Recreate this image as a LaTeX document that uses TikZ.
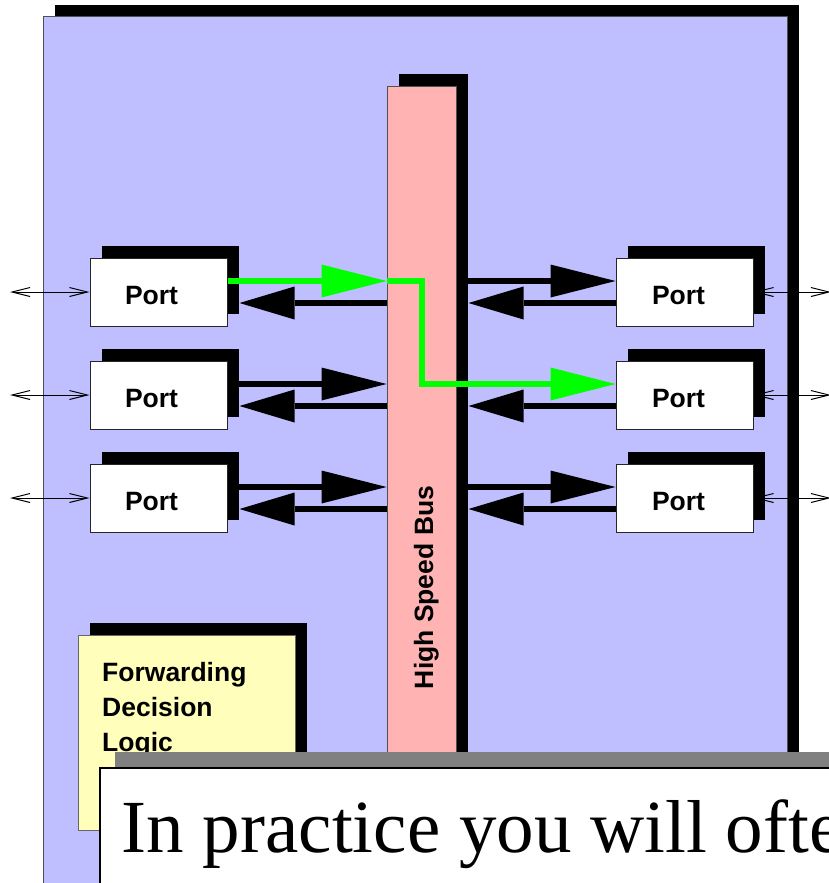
\documentclass[tikz,border=0pt]{standalone}
\usepackage{fontspec}
\setmainfont{Liberation Serif}
\setsansfont{Liberation Sans}
\usetikzlibrary{arrows.meta,shadows,calc}
\definecolor{panelblue}{RGB}{191,191,255}
\definecolor{buspink}{RGB}{255,179,179}
\definecolor{logicyellow}{RGB}{255,255,187}
\definecolor{pathgreen}{RGB}{0,255,0}
\definecolor{edgegray}{RGB}{80,80,80}
\begin{document}
\begin{tikzpicture}[x=1pt,y=-1pt,
  hardshadow/.style={drop shadow={shadow xshift=12pt,shadow yshift=12pt,fill=black,opacity=1}},
  boxbase/.style={rectangle,inner sep=0pt,line width=1pt,draw=edgegray},
  panel/.style={boxbase,fill=panelblue,minimum width=744pt,minimum height=903pt,hardshadow},
  busbox/.style={boxbase,fill=buspink,minimum width=69pt,minimum height=714pt,hardshadow},
  port/.style={boxbase,draw=black!85,fill=white,minimum width=137pt,minimum height=68pt,hardshadow},
  logicbox/.style={boxbase,draw=black!60,fill=logicyellow,minimum width=217pt,minimum height=195pt,hardshadow},
  notebox/.style={rectangle,inner sep=0pt,line width=1.6pt,draw=black,fill=white,
    minimum width=800pt,minimum height=182pt,
    drop shadow={shadow xshift=15pt,shadow yshift=16pt,fill=black!50,opacity=1}},
  labelfont/.style={font=\sffamily\bfseries\fontsize{26.5}{35}\selectfont,inner sep=0pt},
  portlabel/.style={labelfont,anchor=base},
  fwd/.style={line width=6pt,-{Triangle[length=65pt,width=33pt,line width=0pt]}},
  back/.style={line width=6pt,-{Triangle[length=55pt,width=33pt,line width=0pt]}},
  ext/.style={line width=1pt,
    {Straight Barb[length=18pt,width=9pt,line width=1pt]}-{Straight Barb[length=18pt,width=9pt,line width=1pt]}},
]
\useasboundingbox (0,0) rectangle (829,883);
\clip (0,0) rectangle (829,883);

% switch chassis
\node[panel] (chassis) at (415,468.5) {};

% backplane bus
\node[busbox] (bus) at (421.5,443) {};
\node[labelfont,rotate=90,anchor=base] (buslabel) at (433,587.5) {High Speed Bus};

% line cards
\foreach \i/\yy in {1/292,2/395,3/498}{
  \node[port] (pL\i) at (158.5,\yy) {};
  \node[port] (pR\i) at (684.5,\yy) {};
  \node[portlabel] (tL\i) at (151.5,\yy+12) {Port};
  \node[portlabel] (tR\i) at (678.5,\yy+12) {Port};
  \coordinate (xL\i) at (10,\yy);
  \coordinate (xR\i) at (831,\yy);
}

% external links and bus-to-port traffic
\foreach \i in {1,2,3}{
  \draw[ext] (xL\i) -- (pL\i.west);
  \draw[ext] (pR\i.east) -- (xR\i);
  \draw[back] ($(bus.west |- pL\i.east)+(0pt,-11pt)$) -- ($(pL\i.east)+(12pt,-11pt)$);
  \draw[back] ($(pR\i.west)+(0pt,-11pt)$) -- ($(bus.east |- pR\i.west)+(12pt,-11pt)$);
}
% port-to-bus traffic
\draw[fwd] ($(pL2.east)+(0pt,11pt)$) -- ($(bus.west |- pL2.east)+(0pt,11pt)$);
\draw[fwd] ($(pL3.east)+(0pt,11pt)$) -- ($(bus.west |- pL3.east)+(0pt,11pt)$);
\draw[fwd] ($(bus.east |- pR1.west)+(0pt,11pt)$) -- ($(pR1.west)+(0pt,11pt)$);
\draw[fwd] ($(bus.east |- pR3.west)+(0pt,11pt)$) -- ($(pR3.west)+(0pt,11pt)$);

% highlighted frame path across the bus
\draw[fwd,color=pathgreen] ($(pL1.east)+(0pt,11pt)$) -- ($(bus.west |- pL1.east)+(0pt,11pt)$);
\draw[fwd,color=pathgreen] ($(bus.west |- pL1.east)+(0pt,11pt)$)
  -| ($(bus.north |- pR2.west)+(0pt,11pt)$) -- ($(pR2.west)+(0pt,11pt)$);

% forwarding logic block
\node[logicbox] (logic) at (186.5,732.5) {};
\node[labelfont,align=left,anchor=north west] (logiclabel) at (102,661.6)
  {Forwarding\\Decision\\Logic};

% caption overlay
\node[notebox] (note) at (500,859) {};
\node[font=\fontsize{75}{80}\selectfont,inner sep=0pt,anchor=base west] (notetext)
  at (121.5,852) {In practice you will ofte};
\end{tikzpicture}
\end{document}
